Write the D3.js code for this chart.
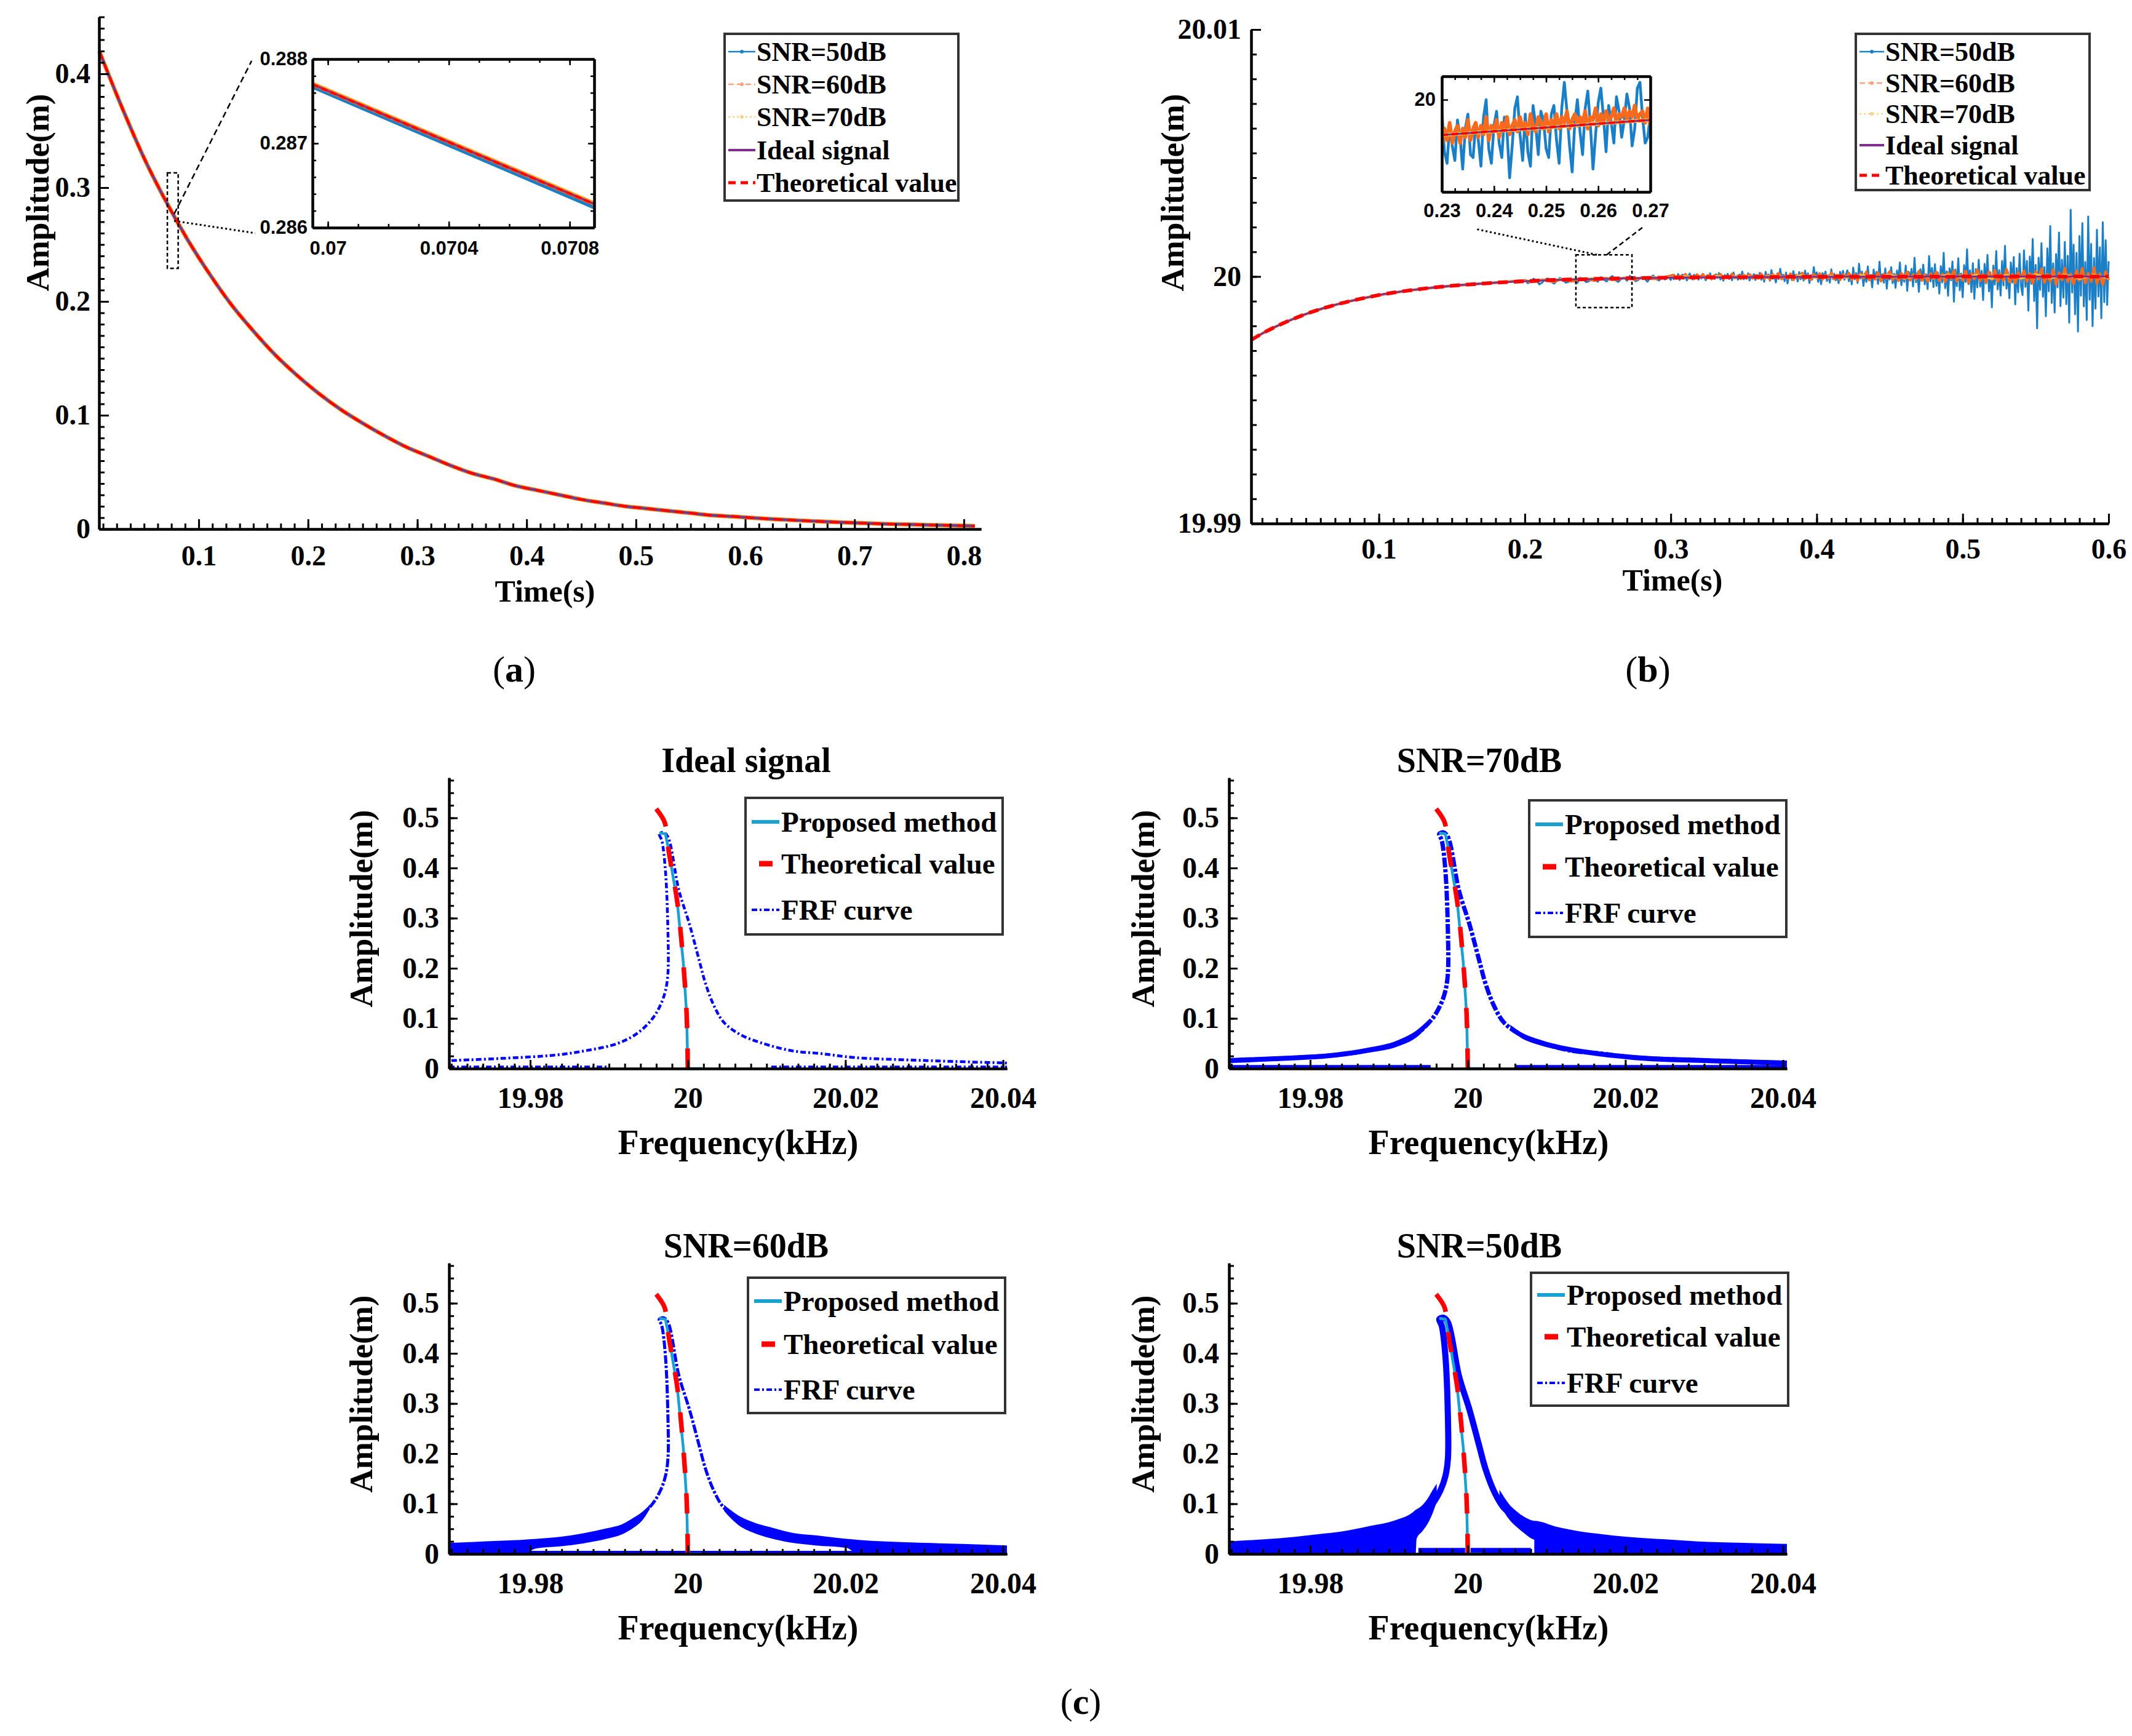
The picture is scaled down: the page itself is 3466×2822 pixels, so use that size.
<!DOCTYPE html>
<meta charset="utf-8">
<script src="https://d3js.org/d3.v7.min.js"></script>
<style>body{margin:0;background:#fff}</style>
<div id="fig"></div>
<script>

// ---------- panel (a): amplitude decay vs time ----------
var aT   = [0.009,0.03,0.05,0.07,0.09,0.11,0.13,0.15,0.17,0.19,0.21,0.23,0.25,0.27,0.29,0.31,0.33,0.35,0.37,0.39,0.41,
            0.43,0.45,0.47,0.49,0.51,0.53,0.55,0.57,0.59,0.61,0.63,0.65,0.67,0.69,0.71,0.73,0.75,0.77,0.79,0.81];
var aAmp = [0.420,0.370,0.326,0.288,0.254,0.224,0.197,0.174,0.153,0.135,0.119,0.105,0.093,0.082,0.072,0.064,0.056,0.049,0.044,0.038,0.034,
            0.030,0.026,0.023,0.020,0.018,0.016,0.014,0.012,0.011,0.0096,0.0085,0.0075,0.0066,0.0058,0.0051,0.0045,0.0040,0.0035,0.0031,0.0027];
var aXTicks = [0.1,0.2,0.3,0.4,0.5,0.6,0.7,0.8];
var aYTicks = [0,0.1,0.2,0.3,0.4];
// zoomed window of (a)
var aZoomT = [0.069949, 0.070881];
var aZoomIdeal = [0.28770, 0.28628];
var aZoom50 = [0.28767, 0.28624];
var aZoomXTicks = [0.07, 0.0704, 0.0708];
var aZoomYTicks = [0.286, 0.287, 0.288];
var aBoxT = [0.0713, 0.0812], aBoxV = [0.229, 0.313];
var aLinkT = [[0.0775, 0.1484], [0.0775, 0.1517]];
var aLinkV = [[0.2768, 0.4114], [0.2708, 0.2600]];

// ---------- panel (b): frequency estimate vs time ----------
var bT = [0.0125,0.02,0.03,0.04,0.05,0.06,0.07,0.08,0.09,0.10,0.12,0.14,0.16,0.18,0.20,0.22,0.24,0.26,0.28,0.30,0.35,0.40,0.45,0.50,0.55,0.60];
var bIdeal = [19.99743,19.99769,19.99799,19.99825,19.99848,19.99868,19.99885,19.99900,19.99913,19.99925,19.99943,19.99957,19.99967,
              19.99975,19.99981,19.99986,19.99989,19.99992,19.99994,19.999954,19.999977,19.999989,19.999995,19.999997,19.999999,19.999999];
// noisy estimates, offsets from 20 in units of 1e-4
// SNR=50dB: 0.200-0.300 s every 2 ms, then 0.301-0.600 s every 1 ms
var b50A = {t0: 0.2, dt: 0.002, v: [
 -1.4,-2.7,-2.1,-0.9,-1.6,-3.2,-2.4,-1.1,-0.8,-2.0,-2.9,-1.7,-0.6,-1.3,-2.5,-2.2,-0.9,-1.8,-2.6,-0.5,-1.1,-2.3,-1.9,-0.7,-1.4,-2.1,
 -0.3,-1.2,-2.0,-0.6,0.2,-1.5,-2.2,-1.0,-0.4,-1.7,0.3,-0.9,-1.9,-1.3,-0.2,-0.8,-2.1,-0.5,0.4,-1.1,-1.6,-0.3,-1.2,0.1,-1.4]};
var b50B = {t0: 0.301, dt: 0.001, v: [
 0.6,-1.1,0.2,-0.7,1.0,-1.4,-0.3,0.8,-0.9,0.4,-1.6,0.1,1.2,-0.5,-1.2,0.7,-0.2,0.9,-1.3,0.3,-0.8,1.1,-0.4,-1.5,0.5,-0.1,1.3,-0.9,0.2,-1.0,
 0.9,-0.6,1.4,-1.2,0.3,-1.7,0.6,-0.3,1.1,-1.0,0.4,-1.5,1.6,-0.7,0.2,-1.3,0.8,-0.4,2.0,-1.1,0.1,-0.9,1.3,-1.6,0.5,-0.2,1.0,-1.4,0.7,-0.8,
 1.5,-1.3,0.4,-2.1,1.9,-0.6,0.8,-1.7,2.6,-0.9,0.3,-2.4,1.2,-1.0,3.1,-0.5,0.7,-1.9,1.6,-2.8,0.2,1.1,-1.4,2.2,-0.8,0.5,-2.0,1.8,-1.1,0.9,
 -1.6,2.4,-0.7,1.3,-2.6,0.6,-1.2,3.8,-0.4,1.7,-2.2,0.9,-3.1,1.4,-0.3,2.0,-1.8,0.5,-2.5,2.9,-0.9,1.1,-1.5,0.3,-2.7,1.9,-0.6,2.3,-1.3,0.8,
 2.5,-1.9,0.7,-3.2,3.6,-1.1,1.4,-2.6,5.2,-0.8,2.0,-3.8,1.2,-2.2,4.1,-1.5,0.6,-4.4,2.8,-0.9,1.9,-3.0,6.0,-1.7,0.9,-2.5,3.3,-4.9,1.5,-1.2,
 3.8,-2.7,1.1,-4.6,2.4,-1.3,5.7,-3.5,0.8,-2.1,4.4,-5.8,1.9,-0.7,3.1,-4.0,7.6,-2.3,1.4,-6.2,2.9,-1.6,4.8,-3.2,0.9,-5.1,8.3,-2.0,3.5,-4.3,
 5.0,-3.8,1.6,-6.9,4.2,-2.4,9.6,-4.7,2.1,-7.8,3.3,-1.5,6.1,-10.2,2.8,-3.9,7.4,-5.6,1.2,-8.4,4.6,-2.2,11.0,-3.1,2.5,-6.3,5.4,-9.0,3.0,-4.4,
 6.8,-4.1,2.3,-9.5,5.1,-2.8,8.7,-6.0,1.7,-12.5,4.4,-3.3,10.3,-5.2,2.6,-7.7,6.3,-3.6,12.4,-4.9,1.9,-8.8,5.7,-2.5,7.9,-11.3,3.4,-6.4,9.2,-4.0,
 -7.5,10.6,-4.2,6.3,-13.8,8.1,-3.0,15.2,-9.9,4.7,-21.0,7.6,-5.4,13.5,-8.2,3.8,-16.1,11.4,-6.0,20.4,-10.7,5.3,-14.6,9.1,-4.4,17.8,-12.0,6.8,-8.5,14.0,
 -11.2,8.4,-18.7,27.0,-6.5,12.9,-15.3,9.6,-22.3,16.4,-7.8,21.6,-12.1,5.9,-17.6,24.3,-9.4,13.2,-20.1,7.5,-13.0,18.9,-8.1,11.8,-16.9,22.0,-10.4,14.7,-11.5,6.2]};
// SNR=60dB: 0.200-0.296 s every 4 ms, then 0.302-0.600 s every 2 ms
var b60A = {t0: 0.2, dt: 0.004, v: [
 -1.6,-2.2,-2.0,-1.3,-1.7,-2.1,-1.2,-1.4,-1.9,-1.5,-0.9,-1.2,-1.6,-1.0,-0.7,-1.3,-1.1,-0.6,-0.9,-1.2,-0.5,-0.4,-0.9,-0.8,-0.3]};
var b60B = {t0: 0.302, dt: 0.002, v: [
 0.6,-0.8,0.3,-0.5,0.9,-0.7,0.2,-0.9,0.7,-0.4,0.8,-0.6,0.4,-1.0,0.5,-0.3,0.9,-0.8,0.2,-0.6,1.0,-0.5,0.3,-0.9,0.6,-0.2,0.8,-0.7,0.4,-0.8,
 1.0,-0.9,0.5,-1.2,0.8,-0.4,1.3,-1.0,0.3,-0.8,1.1,-1.3,0.6,-0.5,1.4,-0.9,0.4,-1.2,0.9,-0.6,1.2,-1.1,0.5,-0.7,1.5,-1.0,0.6,-1.3,0.8,-0.5,
 1.4,-1.2,0.7,-1.6,1.1,-0.6,1.8,-1.4,0.5,-1.1,1.6,-1.8,0.9,-0.7,2.0,-1.3,0.6,-1.7,1.3,-0.9,1.9,-1.5,0.8,-1.2,2.1,-1.6,0.7,-1.9,1.2,-0.8,
 1.8,-1.6,0.9,-2.1,1.5,-0.8,2.4,-1.9,0.7,-1.5,2.2,-2.5,1.2,-1.0,2.7,-1.7,0.8,-2.3,1.9,-1.2,2.6,-2.0,1.0,-1.6,2.9,-2.2,0.9,-2.6,1.6,-1.1,
 2.3,-2.0,1.2,-2.7,1.9,-1.0,3.1,-2.4,0.9,-1.9,2.8,-3.2,1.5,-1.3,3.4,-2.2,1.0,-2.9,2.4,-1.5,3.3,-2.6,1.3,-2.0,3.6,-2.8,1.1,-3.3,2.0,-1.4]};
// SNR=70dB: 0.20-0.60 s every 10 ms
var b70A = {t0: 0.2, dt: 0.01, v: [-1.8,-1.4,-1.2,-0.9,-0.9,-0.6,-0.7,-0.4,-0.5,-0.2,-0.3,0.2,-0.5,0.3,-0.4,0.4,-0.6,0.5,-0.3,0.6,-0.7,
              0.4,-0.6,0.7,-0.5,0.8,-0.8,0.6,-0.7,0.9,-0.6,0.8,-1.0,0.7,-0.9,1.0,-0.8,0.9,-1.1,0.8,-0.9]};
var bXTicks = [0.1,0.2,0.3,0.4,0.5,0.6];
var bYTicks = [19.99, 20, 20.01];
// zoomed window of (b), 0.23-0.27 s, offsets from 20 in 1e-4
var bZoomT = [0.23, 0.27];
var bZoomIdealOff = [-1.22, -0.70];
var bZoom50Off = [-0.4,-1.8,-2.2,-0.9,-1.6,-2.1,-0.7,-1.3,-2.4,-1.0,-0.5,-1.9,-2.0,-0.8,-1.4,-2.3,-0.6,0.0,-1.7,-2.2,-0.9,-0.4,-1.5,-2.0,
  -0.6,-1.1,-2.7,-1.6,-0.3,0.1,-1.2,-2.1,-0.5,-1.8,-2.3,-0.2,-0.9,-1.9,-0.4,-0.7,-1.7,-2.0,-0.5,-0.2,-1.4,-2.2,-0.3,0.6,-0.4,-1.6,
  -2.5,-0.8,0.0,-1.1,-1.9,-0.3,0.3,-0.9,-2.4,-1.2,-0.1,0.4,-0.6,-1.8,-0.2,-0.8,-1.5,0.1,-0.4,-1.3,-0.7,0.2,-0.3,-1.6,-1.0,0.4,0.6,
  -0.6,-1.5,-1.3,-0.5];
var bZoom60Off = [-1.6,-1.0,-1.4,-0.8,-1.5,-1.1,-0.9,-1.5,-1.0,-1.3,-0.7,-1.4,-1.0,-0.8,-1.3,-0.9,-1.2,-0.6,-1.4,-0.9,-1.1,-0.7,-1.3,
  -0.8,-1.0,-0.6,-1.2,-0.9,-0.7,-1.1,-0.6,-1.0,-0.8,-1.2,-0.5,-0.9,-1.1,-0.6,-0.8,-1.0,-0.5,-1.1,-0.7,-0.9,-0.5,-1.0,-0.6,-0.8,-0.4,
  -1.0,-0.7,-0.5,-0.9,-0.6,-0.8,-0.4,-1.0,-0.6,-0.7,-0.3,-0.9,-0.5,-0.8,-0.4,-0.7,-0.6,-0.3,-0.8,-0.5,-0.6,-0.3,-0.7,-0.4,-0.6,-0.2,
  -0.7,-0.5,-0.4,-0.8,-0.3,-0.9];
var bZoomXTicks = [0.23,0.24,0.25,0.26,0.27];
var bZoomYTicks = [20];
var bBoxT = [0.235, 0.2734], bBoxV = [19.99874, 20.00088];
var bLinkT = [[0.2494, 0.1659], [0.2561, 0.2805]];
var bLinkV = [[20.00088, 20.00193], [20.00088, 20.00198]];

// ---------- panel (c): FRF vs identified curve ----------
var cTitles = ["Ideal signal", "SNR=70dB", "SNR=60dB", "SNR=50dB"];
var cXTicks = [19.98, 20, 20.02, 20.04];
var cYTicks = [0, 0.1, 0.2, 0.3, 0.4, 0.5];
var frfF = [19.9700,19.97609,19.98327,19.98717,19.99108,19.99365,19.99553,19.99654,19.99716,19.99748,19.99748,19.99716,19.99670,
            19.99638,19.99693,19.99748,19.99888,20.00021,20.00146,20.00224,20.00333,20.00458,20.00669,20.00926,20.01317,20.01683,
            20.02113,20.03018,20.0405];
var frfA = [0.016,0.020,0.027,0.036,0.050,0.071,0.100,0.127,0.155,0.190,0.272,0.395,0.455,
            0.468,0.471,0.462,0.355,0.288,0.215,0.170,0.125,0.092,0.0675,0.0515,0.0356,0.030,
            0.022,0.016,0.011];
var theoF = [19.99599,19.99709,19.99756,19.99865,19.99943,19.99985,20.0000];
var theoA = [0.518,0.490,0.436,0.334,0.211,0.109,0];
var propF = [19.99638,19.99716,19.99756,19.99865,19.99943,19.99985,20.0000,20.0018];
var propA = [0.470,0.468,0.436,0.334,0.211,0.109,0,0];
// spectral floor segments [from, to] and their height, per panel
var floorSeg = [[[19.9697,19.99006],[20.01059,20.0405]], [[19.9697,19.99529],[20.00606,20.0405]],
                [[19.9697,20.0405]], [[19.99373,19.99966],[20.00036,20.0080]]];
var floorTop = [0.003, 0.007, 0.006, 0.012];
// noise bands on the skirts (freq, low, high)
var band70LF = [19.9697,19.9761,19.98327,19.98717,19.99107,19.99365,19.99507];
var band70LLo = [0.011,0.015,0.022,0.031,0.044,0.064,0.087];
var band70LHi = [0.021,0.025,0.032,0.041,0.056,0.078,0.098];
var band70RF = [20.0054,20.00669,20.00926,20.01192,20.01449,20.02113,20.03018,20.0405];
var band70RLo = [0.077,0.062,0.046,0.036,0.029,0.017,0.011,0.006];
var band70RHi = [0.087,0.073,0.057,0.046,0.039,0.027,0.021,0.016];
var band60LF = [19.9697,19.97295,19.9759,19.97885,19.98082,19.98377,19.98672,19.98967,19.99163,19.99311,19.99438,19.99517];
var band60LLo = [0,0,0,0,0.011,0.015,0.021,0.030,0.039,0.052,0.070,0.090];
var band60LHi = [0.022,0.024,0.026,0.028,0.030,0.034,0.041,0.051,0.059,0.072,0.086,0.098];
var band60RF = [20.00461,20.0054,20.00638,20.00835,20.01032,20.01327,20.01622,20.02015,20.02162,20.02506,20.02998,20.0349,20.0405];
var band60RLo = [0.086,0.072,0.058,0.042,0.032,0.022,0.017,0.012,0,0,0,0,0];
var band60RHi = [0.098,0.088,0.077,0.063,0.054,0.042,0.037,0.030,0.028,0.025,0.022,0.020,0.017];
var band50LF = [19.9697,19.97295,19.9759,19.97806,19.98082,19.98416,19.9877,19.99075,19.9931,19.99339,19.9935,19.99428,19.99497,19.99556,19.99606];
var band50LLo = [0,0,0,0,0,0,0,0,0,0,0.030,0.046,0.062,0.082,0.104];
var band50LHi = [0.025,0.028,0.031,0.034,0.039,0.045,0.056,0.067,0.084,0.088,0.089,0.098,0.112,0.128,0.140];
var band50RF = [20.00402,20.00442,20.0052,20.00619,20.00717,20.00815,20.00844,20.00845,20.0113,20.01415,20.0172,20.02025,20.02506,20.0292,20.0349,20.0405];
var band50RLo = [0.106,0.090,0.070,0.054,0.041,0.030,0.028,0,0,0,0,0,0,0,0,0];
var band50RHi = [0.128,0.118,0.100,0.085,0.074,0.067,0.066,0.066,0.054,0.045,0.039,0.034,0.029,0.025,0.022,0.020];

// ---------- drawing ----------
var W = 3466, H = 2822;
var SERIF = "'Liberation Serif','Times New Roman',serif";
var SANS = "'Liberation Sans',Arial,sans-serif";
var col = {b50: "#1a7fc6", b60: "#fa6a1c", b70: "#f3b93e", ideal: "#7e2f8e", theo: "#ff0000",
           prop: "#1ba0d2", frf: "#0000ff"};

var svg = d3.select("#fig").append("svg").attr("width", W).attr("height", H);
svg.append("rect").attr("width", W).attr("height", H).attr("fill", "#fff");
var defs = svg.append("defs");

function txt(g, x, y, s, size, o) {
  o = o || {};
  var t = g.append("text").attr("x", x).attr("y", y).attr("dy", "0.35em")
    .attr("text-anchor", o.anchor || "middle")
    .attr("font-family", o.font || SERIF).attr("font-weight", o.weight || "bold")
    .attr("font-size", size).attr("fill", "#000").text(s);
  if (o.rot) t.attr("transform", "rotate(" + o.rot + "," + x + "," + y + ")");
  return t;
}

function drawLine(g, pts, x, y, st) {
  return g.append("path").datum(pts)
    .attr("d", d3.line().x(function(d) { return x(d[0]); }).y(function(d) { return y(d[1]); }).curve(st.curve || d3.curveLinear))
    .attr("fill", "none").attr("stroke", st.c).attr("stroke-width", st.w)
    .attr("stroke-dasharray", st.dash || null).attr("stroke-linejoin", "round")
    .attr("stroke-linecap", st.cap || "butt").attr("clip-path", st.clip || null);
}

function clipFor(id, x, y) {
  defs.append("clipPath").attr("id", id).append("rect")
    .attr("x", x.range()[0]).attr("y", y.range()[1])
    .attr("width", x.range()[1] - x.range()[0]).attr("height", y.range()[0] - y.range()[1]);
  return "url(#" + id + ")";
}

function axes(g, x, y, o) {
  var yb = y.range()[0], yt = y.range()[1], xl = x.range()[0], xr = x.range()[1];
  var fmt = d3.format("~g");
  function style(sel) {
    sel.select(".domain").attr("stroke", "#000").attr("stroke-width", o.lw);
    sel.selectAll(".tick line").attr("stroke", "#000").attr("stroke-width", o.tw);
    sel.selectAll("text").attr("font-family", o.font).attr("font-weight", "bold")
      .attr("font-size", o.fs).attr("fill", "#000");
  }
  var sides = [["b", yb]];
  if (o.box) sides.push(["t", yt]);
  sides.forEach(function(s) {
    var mk = s[0] == "b" ? d3.axisBottom : d3.axisTop;
    g.append("g").attr("transform", "translate(0," + s[1] + ")")
      .call(mk(x).tickValues(o.xMinor).tickSize(-o.minor).tickSizeOuter(0).tickFormat(""))
      .call(style);
    g.append("g").attr("transform", "translate(0," + s[1] + ")")
      .call(mk(x).tickValues(o.xTicks).tickSize(-o.major).tickSizeOuter(0).tickPadding(o.xpad)
        .tickFormat(s[0] == "b" ? fmt : ""))
      .call(style);
  });
  var vs = [["l", xl]];
  if (o.box) vs.push(["r", xr]);
  vs.forEach(function(s) {
    var mk = s[0] == "l" ? d3.axisLeft : d3.axisRight;
    g.append("g").attr("transform", "translate(" + s[1] + ",0)")
      .call(mk(y).tickValues(o.yMinor).tickSize(-o.minor).tickSizeOuter(0).tickFormat(""))
      .call(style);
    g.append("g").attr("transform", "translate(" + s[1] + ",0)")
      .call(mk(y).tickValues(o.yTicks).tickSize(-o.major).tickSizeOuter(0).tickPadding(o.ypad)
        .tickFormat(s[0] == "l" ? fmt : ""))
      .call(style);
  });
}

// legend used in (a) and (b)
function legendAB(g, bx, by, bw, bh, rows, sx0, sx1, tx) {
  g.append("rect").attr("x", bx).attr("y", by).attr("width", bw).attr("height", bh)
    .attr("fill", "#fff").attr("stroke", "#333").attr("stroke-width", 4);
  var items = [
    {name: "SNR=50dB", c: col.b50, w: 2.5, dash: null, dot: true},
    {name: "SNR=60dB", c: "#f7a27c", w: 2.5, dash: "9,5", dot: true},
    {name: "SNR=70dB", c: "#f6d48a", w: 2.5, dash: "3,4", dot: true},
    {name: "Ideal signal", c: col.ideal, w: 4, dash: null},
    {name: "Theoretical value", c: col.theo, w: 5, dash: "12,8"}];
  items.forEach(function(it, i) {
    var yy = rows[i];
    g.append("line").attr("x1", sx0).attr("x2", sx1).attr("y1", yy).attr("y2", yy)
      .attr("stroke", it.c).attr("stroke-width", it.w).attr("stroke-dasharray", it.dash);
    if (it.dot) g.append("circle").attr("cx", (sx0 + sx1) / 2).attr("cy", yy).attr("r", 3).attr("fill", it.c);
    txt(g, tx, yy, it.name, 44, {anchor: "start"});
  });
}

// ===== panel (a) =====
var ga = svg.append("g");
var ax = d3.scaleLinear().domain([0.0088, 0.8158]).range([161, 1595]);
var ay = d3.scaleLinear().domain([0, 0.45]).range([860, 27.5]);
var aPts = d3.zip(aT, aAmp);
drawLine(ga, aPts, ax, ay, {c: col.b70, w: 7, curve: d3.curveMonotoneX});
drawLine(ga, aPts, ax, ay, {c: col.b60, w: 6, curve: d3.curveMonotoneX});
drawLine(ga, aPts, ax, ay, {c: col.b50, w: 4, curve: d3.curveMonotoneX});
drawLine(ga, aPts, ax, ay, {c: col.ideal, w: 3, curve: d3.curveMonotoneX});
drawLine(ga, aPts, ax, ay, {c: col.theo, w: 4, dash: "14,9", curve: d3.curveMonotoneX});
axes(ga, ax, ay, {xTicks: aXTicks, yTicks: aYTicks, xMinor: d3.range(0.0125, 0.81, 0.0125), yMinor: d3.range(0, 0.451, 0.01),
  major: 16, minor: 9, lw: 4, tw: 3, fs: 46, font: SERIF, xpad: 26, ypad: 14});
// zoom marker and connectors
ga.append("rect").attr("x", ax(aBoxT[0])).attr("y", ay(aBoxV[1]))
  .attr("width", ax(aBoxT[1]) - ax(aBoxT[0])).attr("height", ay(aBoxV[0]) - ay(aBoxV[1]))
  .attr("fill", "none").attr("stroke", "#000").attr("stroke-width", 2.5).attr("stroke-dasharray", "6,4");
drawLine(ga, d3.zip(aLinkT[0], aLinkV[0]), ax, ay, {c: "#000", w: 2.5, dash: "10,6"});
drawLine(ga, d3.zip(aLinkT[1], aLinkV[1]), ax, ay, {c: "#000", w: 3, dash: "3,4"});
// inset
var aix = d3.scaleLinear().domain(aZoomT).range([508, 966]);
var aiy = d3.scaleLinear().domain([0.286, 0.288]).range([370, 96]);
ga.append("rect").attr("x", 508).attr("y", 96).attr("width", 458).attr("height", 274).attr("fill", "#fff");
var aclip = clipFor("aclip", aix, aiy);
drawLine(ga, d3.zip(aZoomT, aZoomIdeal), aix, aiy, {c: col.b70, w: 9, clip: aclip});
drawLine(ga, d3.zip(aZoomT, aZoom50), aix, aiy, {c: col.b50, w: 6, clip: aclip});
drawLine(ga, d3.zip(aZoomT, aZoomIdeal), aix, aiy, {c: col.b60, w: 6, clip: aclip});
drawLine(ga, d3.zip(aZoomT, aZoomIdeal), aix, aiy, {c: col.ideal, w: 3, clip: aclip});
drawLine(ga, d3.zip(aZoomT, aZoomIdeal), aix, aiy, {c: col.theo, w: 4, dash: "10,6", clip: aclip});
axes(ga, aix, aiy, {box: true, xTicks: aZoomXTicks, yTicks: aZoomYTicks, xMinor: d3.range(0.07, 0.07089, 0.0001),
  yMinor: d3.range(0.286, 0.28801, 0.0002), major: 10, minor: 6, lw: 4, tw: 2.5, fs: 31, font: SANS, xpad: 22, ypad: 8});
legendAB(ga, 1178, 55, 380, 271, [84, 137, 190, 244, 297], 1184, 1228, 1230);
txt(ga, 886, 960, "Time(s)", 50);
txt(ga, 60, 313, "Amplitude(m)", 53, {rot: -90});

// ===== panel (b) =====
var gb = svg.append("g");
var bx = d3.scaleLinear().domain([0.0125, 0.6]).range([2034, 3428]);
var by = d3.scaleLinear().domain([19.99, 20.01]).range([851, 48]);
var bIdealPts = d3.zip(bT, bIdeal);
var bHead = bIdealPts.filter(function(d) { return d[0] < 0.2; });
function noisy(parts) {
  var pts = bHead.slice();
  parts.forEach(function(p) {
    p.v.forEach(function(v, i) { pts.push([p.t0 + i * p.dt, 20 + v * 1e-4]); });
  });
  return pts;
}
drawLine(gb, noisy([b50A, b50B]), bx, by, {c: col.b50, w: 3});
drawLine(gb, noisy([b60A, b60B]), bx, by, {c: col.b60, w: 4.5});
drawLine(gb, noisy([b70A]), bx, by, {c: col.b70, w: 3});
drawLine(gb, bIdealPts, bx, by, {c: col.ideal, w: 3, curve: d3.curveMonotoneX});
drawLine(gb, bIdealPts, bx, by, {c: col.theo, w: 6, dash: "16,10", curve: d3.curveMonotoneX});
axes(gb, bx, by, {xTicks: bXTicks, yTicks: bYTicks, xMinor: d3.range(0.02, 0.601, 0.01), yMinor: d3.range(19.99, 20.0101, 0.001),
  major: 16, minor: 9, lw: 4, tw: 3, fs: 46, font: SERIF, xpad: 24, ypad: 16});
gb.append("rect").attr("x", bx(bBoxT[0])).attr("y", by(bBoxV[1]))
  .attr("width", bx(bBoxT[1]) - bx(bBoxT[0])).attr("height", by(bBoxV[0]) - by(bBoxV[1]))
  .attr("fill", "none").attr("stroke", "#000").attr("stroke-width", 2.5).attr("stroke-dasharray", "5,4");
drawLine(gb, d3.zip(bLinkT[0], bLinkV[0]), bx, by, {c: "#000", w: 3, dash: "3,4"});
drawLine(gb, d3.zip(bLinkT[1], bLinkV[1]), bx, by, {c: "#000", w: 2.5, dash: "8,5"});
// inset
var bix = d3.scaleLinear().domain(bZoomT).range([2344, 2683]);
var biy = d3.scaleLinear().domain([19.999681, 20.000081]).range([312, 124]);
var bclip = clipFor("bclip", bix, biy);
function zoomPts(offs) {
  var n = offs.length;
  return offs.map(function(v, i) { return [0.23 + i * 0.04 / (n - 1), 20 + v * 1e-4]; });
}
var bZoomIdeal = d3.zip(bZoomT, bZoomIdealOff.map(function(v) { return 20 + v * 1e-4; }));
drawLine(gb, zoomPts(bZoom50Off), bix, biy, {c: col.b50, w: 4.5, clip: bclip});
drawLine(gb, zoomPts(bZoom60Off), bix, biy, {c: col.b60, w: 6, clip: bclip});
drawLine(gb, bZoomIdeal, bix, biy, {c: col.b70, w: 6, clip: bclip});
drawLine(gb, bZoomIdeal, bix, biy, {c: col.ideal, w: 3, clip: bclip});
drawLine(gb, bZoomIdeal, bix, biy, {c: col.theo, w: 4, dash: "10,6", clip: bclip});
axes(gb, bix, biy, {box: true, xTicks: bZoomXTicks, yTicks: bZoomYTicks, xMinor: d3.range(0.23, 0.2701, 0.0025),
  yMinor: [], major: 10, minor: 6, lw: 4, tw: 2.5, fs: 31, font: SANS, xpad: 19, ypad: 10});
legendAB(gb, 3017, 55, 380, 254, [84, 135, 185, 236, 285], 3023, 3063, 3065);
txt(gb, 2719, 942, "Time(s)", 50);
txt(gb, 1905, 313, "Amplitude(m)", 53, {rot: -90});

// ===== panel (c) =====
var cX0 = [730, 1998, 730, 1998], cY0 = [1737, 1737, 2526, 2526];
var cLeg = [[1212, 1297, 418, 222, [1336, 1404, 1479]], [2486, 1301, 418, 222, [1340, 1409, 1484]],
            [1216, 2077, 418, 220, [2115, 2185, 2259]], [2489, 2069, 418, 216, [2105, 2173, 2248]]];
var cBands = [[],
  [[band70LF, band70LLo, band70LHi], [band70RF, band70RLo, band70RHi]],
  [[band60LF, band60LLo, band60LHi], [band60RF, band60RLo, band60RHi]],
  [[band50LF, band50LLo, band50LHi], [band50RF, band50RLo, band50RHi]]];
var frfStyle = [{w: 4.5, dash: "9,4,3,4"}, {w: 7, dash: "16,3,5,3"}, {w: 5, dash: "14,3,4,3"}, {w: 10, dash: null}];

cTitles.forEach(function(title, k) {
  var g = svg.append("g");
  var x = d3.scaleLinear().domain([19.9697, 20.0405]).range([cX0[k], cX0[k] + 907]);
  var y = d3.scaleLinear().domain([0, 0.58]).range([cY0[k], cY0[k] - 0.58 * 815]);
  var clip = clipFor("cclip" + k, x, y);
  // spectral floor
  floorSeg[k].forEach(function(s) {
    if (k == 0) {
      drawLine(g, [[s[0], floorTop[k]], [s[1], floorTop[k]]], x, y, {c: col.frf, w: 4.5, dash: "9,4,3,4"});
    } else {
      g.append("path").datum([[s[0], 0, floorTop[k]], [s[1], 0, floorTop[k]]])
        .attr("d", d3.area().x(function(d) { return x(d[0]); }).y0(function(d) { return y(d[1]); }).y1(function(d) { return y(d[2]); }))
        .attr("fill", col.frf);
    }
  });
  // noise bands on the skirts
  cBands[k].forEach(function(b) {
    g.append("path").datum(d3.zip(b[0], b[1], b[2]))
      .attr("d", d3.area().x(function(d) { return x(d[0]); }).y0(function(d) { return y(d[1]); }).y1(function(d) { return y(d[2]); })
        .curve(d3.curveMonotoneX))
      .attr("fill", col.frf).attr("clip-path", clip);
  });
  drawLine(g, d3.zip(frfF, frfA), x, y, {c: col.frf, w: frfStyle[k].w, dash: frfStyle[k].dash,
    curve: d3.curveCatmullRom.alpha(0.5), clip: clip});
  drawLine(g, d3.zip(propF, propA), x, y, {c: col.prop, w: 4.5});
  drawLine(g, d3.zip(theoF, theoA), x, y, {c: col.theo, w: 7.5, dash: "33,33", curve: d3.curveMonotoneY});
  axes(g, x, y, {xTicks: cXTicks, yTicks: cYTicks, xMinor: d3.range(19.970, 20.0404, 0.002), yMinor: d3.range(0, 0.58, 0.025),
    major: 14, minor: 8, lw: 4, tw: 3, fs: 48, font: SERIF, xpad: 30, ypad: 16});
  // legend
  var L = cLeg[k], lx = L[0];
  g.append("rect").attr("x", L[0]).attr("y", L[1]).attr("width", L[2]).attr("height", L[3])
    .attr("fill", "#fff").attr("stroke", "#333").attr("stroke-width", 4);
  g.append("line").attr("x1", lx + 10).attr("x2", lx + 55).attr("y1", L[4][0]).attr("y2", L[4][0])
    .attr("stroke", col.prop).attr("stroke-width", 6);
  g.append("line").attr("x1", lx + 22).attr("x2", lx + 44).attr("y1", L[4][1]).attr("y2", L[4][1])
    .attr("stroke", col.theo).attr("stroke-width", 9);
  g.append("line").attr("x1", lx + 10).attr("x2", lx + 55).attr("y1", L[4][2]).attr("y2", L[4][2])
    .attr("stroke", col.frf).attr("stroke-width", 4).attr("stroke-dasharray", "9,4,3,4");
  txt(g, lx + 58, L[4][0], "Proposed method", 47, {anchor: "start"});
  txt(g, lx + 58, L[4][1], "Theoretical value", 47, {anchor: "start"});
  txt(g, lx + 58, L[4][2], "FRF curve", 47, {anchor: "start"});
  // titles
  var mid = k % 2 == 0 ? 1213 : 2405;
  txt(g, mid, cY0[k] - 502, title, 56);
  txt(g, k % 2 == 0 ? 1200 : 2420, cY0[k] + 119, "Frequency(kHz)", 56);
  txt(g, k % 2 == 0 ? 586 : 1857, cY0[k] - 260, "Amplitude(m)", 53, {rot: -90});
});

// sub-figure captions
function caption(x, y, letter) {
  var t = svg.append("text").attr("x", x).attr("y", y).attr("dy", "0.35em").attr("text-anchor", "middle")
    .attr("font-family", SERIF).attr("font-size", 60).attr("fill", "#000");
  t.append("tspan").text("(");
  t.append("tspan").attr("font-weight", "bold").text(letter);
  t.append("tspan").text(")");
}
caption(836, 1087, "a");
caption(2679, 1087, "b");
caption(1757, 2765, "c");

</script>
